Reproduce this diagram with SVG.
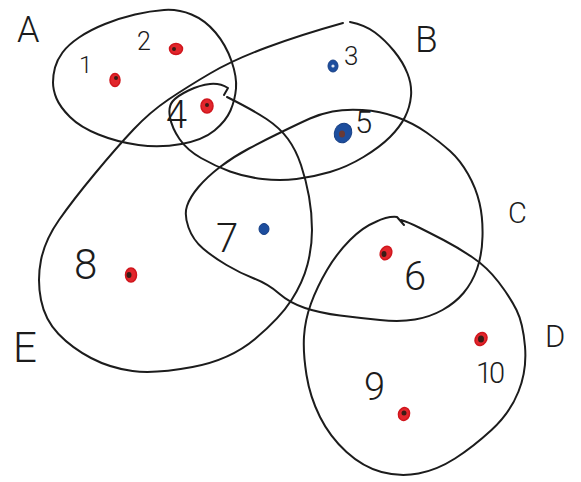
<svg xmlns="http://www.w3.org/2000/svg" width="581" height="482" viewBox="0 0 581 482">
<style>
.loop{fill:none;stroke:#1c1c1c;stroke-width:2;stroke-linecap:round;stroke-linejoin:round}
.lbl{font-family:Roboto,"Liberation Sans",Arial,sans-serif;font-weight:300;fill:#1c1c1c}
.red{fill:#e2262c;stroke:#d0161d;stroke-width:1.5}
.blue{fill:#1d4e9e;stroke:#173f85;stroke-width:1}
.core{fill:#3a1c16}
</style>
<rect width="581" height="482" fill="#ffffff"/>
<g id="connectors">
<g id="A"><path class="loop" d="M53,82.5 Q53,75 55,67.5 Q57,60 62.5,52.5 Q68,45 79,37.5 Q90,30 105,24 Q120,18 135,14.5 Q150,11 164,10 Q178,9 191.5,14.5 Q205,20 215.5,32.5 Q226,45 231.5,61 Q237,77 236,88.5 Q235,100 230.5,110.5 Q226,121 214.5,130.5 Q203,140 181.5,144 Q160,148 138.5,145 Q117,142 98.5,134.5 Q80,127 70,117 Q60,107 56.5,98.5 Q53,90 53,82.5 Z"/></g>
<g id="B"><path class="loop" d="M350,22 Q365,25 375,32.5 Q385,40 394,51 Q403,62 407.5,73.5 Q412,85 411,96 Q410,107 405,117 Q400,127 390,137 Q380,147 363.5,157 Q347,167 330,172 Q313,177 296.5,179 Q280,181 262.5,179 Q245,177 230,171.5 Q215,166 201,158 Q187,150 179.5,139 Q172,128 170,117.5 Q168,107 172.5,101.5 Q177,96 188.5,90.5 Q200,85 210,84 Q220,83 228,88 L224,95"/></g>
<g id="E"><path class="loop" d="M343,23 Q300,35 266.5,47.5 Q233,60 210,73.5 Q187,87 168.5,99.5 Q150,112 133.5,129.5 Q117,147 95,173.5 Q73,200 59,220 Q45,240 41,260 Q37,280 41,300 Q45,320 58.5,334 Q72,348 91,358 Q110,368 132.5,371 Q155,374 192.5,367 Q230,360 255,339 Q280,318 291.5,300 Q303,282 307.5,264.5 Q312,247 312,230 Q312,213 309,196.5 Q306,180 301,165 Q296,150 288,139 Q280,128 266.5,119 Q253,110 227,97"/></g>
<g id="C"><path class="loop" d="M198.5,187 Q190,197 187,206 Q184,215 188.5,227.5 Q193,240 203,248.5 Q213,257 226.5,265 Q240,273 254,278.5 Q268,284 279,293.5 Q290,303 305,308 Q320,313 340,315.5 Q360,318 380,320 Q400,322 415,319.5 Q430,317 442.5,310 Q455,303 463.5,293 Q472,283 477,269 Q482,255 482.5,236.5 Q483,218 479.5,203 Q476,188 468,174 Q460,160 450,151 Q440,142 426.5,132.5 Q413,123 396.5,117 Q380,111 362.5,110 Q345,109 332.5,111.5 Q320,114 310,118.5 Q300,123 282.5,131.5 Q265,140 249,148.5 Q233,157 220,167 Q207,177 198.5,187 Z"/></g>
<g id="D"><path class="loop" d="M404,225 L397,217 Q388,216 375.5,222 Q363,227 350,240 Q337,253 327,270 Q317,287 311,303.5 Q305,320 304,336.5 Q303,353 306.5,375 Q310,397 320,417 Q330,437 346.5,452 Q363,467 381.5,472 Q400,477 418.5,473.5 Q437,470 455,458.5 Q473,447 491.5,430 Q510,413 518.5,391.5 Q527,370 525,346.5 Q523,323 516.5,310 Q510,297 498.5,282 Q487,267 472,257 Q457,247 443.5,240 Q430,233 419,227.5 Q408,222 401,220"/></g>
</g>
<g id="labels">
<text class="lbl" x="17" y="42" font-size="36">A</text>
<text class="lbl" x="415" y="52" font-size="37">B</text>
<text class="lbl" x="508" y="223" font-size="29">C</text>
<text class="lbl" x="545" y="347" font-size="31">D</text>
<text class="lbl" x="13" y="362" font-size="42">E</text>
</g>
<g id="n1"><ellipse class="red" cx="115" cy="80" rx="5" ry="6.5"/><ellipse class="core" cx="116" cy="78" rx="2" ry="2"/><text class="lbl" x="79" y="73" font-size="24">1</text></g>
<g id="n2"><ellipse class="red" cx="176" cy="49" rx="6.5" ry="5.5"/><ellipse class="core" cx="174" cy="49" rx="2" ry="2"/><text class="lbl" x="137" y="50" font-size="25">2</text></g>
<g id="n3"><ellipse class="blue" cx="333" cy="66" rx="5" ry="6"/><circle cx="333" cy="66" r="1.6" fill="#dfe8f5"/><text class="lbl" x="344" y="65" font-size="26">3</text></g>
<g id="n4"><ellipse class="red" cx="207" cy="106" rx="6" ry="7"/><ellipse class="core" cx="207" cy="105" rx="2" ry="2"/><text class="lbl" x="166" y="128" font-size="38">4</text></g>
<g id="n5"><ellipse class="blue" cx="343" cy="133" rx="8.5" ry="10" transform="rotate(25 343 133)"/><ellipse cx="342" cy="134" rx="3" ry="3.5" fill="#6a3a36"/><text class="lbl" x="355" y="133" font-size="31">5</text></g>
<g id="n6"><ellipse class="red" cx="386" cy="253" rx="5.5" ry="7" transform="rotate(25 386 253)"/><ellipse class="core" cx="384" cy="254" rx="2.5" ry="3"/><text class="lbl" x="404" y="290" font-size="40">6</text></g>
<g id="n7"><ellipse class="blue" cx="264" cy="229" rx="5" ry="5.5"/><text class="lbl" x="216" y="252" font-size="40">7</text></g>
<g id="n8"><ellipse class="red" cx="131" cy="275" rx="5.5" ry="7"/><ellipse class="core" cx="129" cy="275" rx="2.5" ry="3"/><text class="lbl" x="74" y="279" font-size="42">8</text></g>
<g id="n9"><ellipse class="red" cx="404" cy="414" rx="5.5" ry="6.5" transform="rotate(20 404 414)"/><ellipse class="core" cx="404" cy="413" rx="2.5" ry="2.5"/><text class="lbl" x="364" y="400" font-size="38">9</text></g>
<g id="n10"><ellipse class="red" cx="481" cy="339" rx="5.5" ry="7" transform="rotate(35 481 339)"/><ellipse class="core" cx="481" cy="339" rx="3" ry="3.5"/><text class="lbl" x="476" y="383" font-size="29" letter-spacing="-3">10</text></g>
</svg>
